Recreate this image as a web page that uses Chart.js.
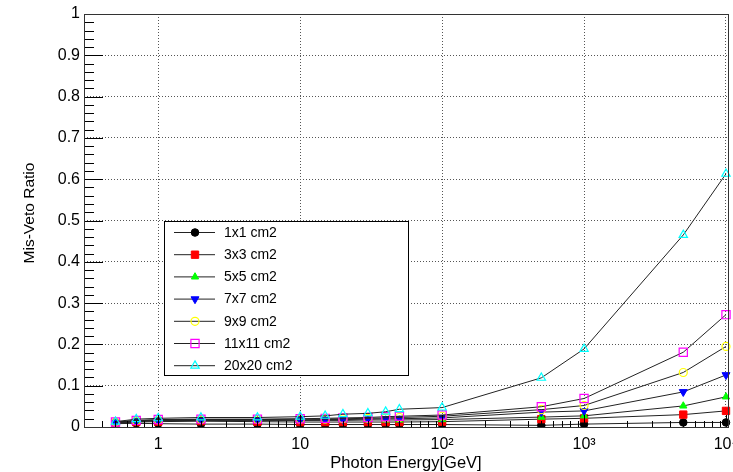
<!DOCTYPE html>
<html>
<head>
<meta charset="utf-8">
<script src="https://cdn.jsdelivr.net/npm/chart.js@4.4.1/dist/chart.umd.min.js"></script>
<style>
  html, body { margin: 0; padding: 0; background: #fff; overflow: hidden; }
  #wrap { width: 760px; height: 472px; }
</style>
</head>
<body>
<div id="wrap"><canvas id="grafico" width="760" height="472"></canvas></div>
<script>
// Energia do fóton (GeV) e razão de mis-veto por tamanho de célula
const energias   = [0.5, 0.7, 1, 2, 5, 10, 15, 20, 30, 40, 50, 100, 500, 1000, 5000, 10000];
const veto1x1    = [0.008, 0.009, 0.008, 0.007, 0.007, 0.006, 0.006, 0.006, 0.006, 0.006, 0.006, 0.006, 0.004, 0.007, 0.011, 0.011];
const veto3x3    = [0.009, 0.012, 0.013, 0.014, 0.013, 0.012, 0.012, 0.012, 0.012, 0.012, 0.012, 0.013, 0.019, 0.021, 0.030, 0.039];
const veto5x5    = [0.010, 0.013, 0.015, 0.016, 0.016, 0.016, 0.016, 0.016, 0.017, 0.017, 0.017, 0.018, 0.024, 0.027, 0.051, 0.073];
const veto7x7    = [0.011, 0.014, 0.016, 0.017, 0.017, 0.017, 0.018, 0.018, 0.019, 0.020, 0.020, 0.022, 0.036, 0.039, 0.085, 0.126];
const veto9x9    = [0.012, 0.015, 0.017, 0.018, 0.018, 0.019, 0.019, 0.020, 0.021, 0.022, 0.023, 0.026, 0.042, 0.052, 0.132, 0.195];
const veto11x11  = [0.012, 0.016, 0.018, 0.019, 0.019, 0.020, 0.021, 0.022, 0.023, 0.025, 0.026, 0.029, 0.049, 0.069, 0.181, 0.272];
const veto20x20  = [0.013, 0.019, 0.021, 0.023, 0.023, 0.025, 0.027, 0.031, 0.033, 0.037, 0.043, 0.047, 0.119, 0.189, 0.465, 0.613];

const rotulos  = ['1x1 cm2', '3x3 cm2', '5x5 cm2', '7x7 cm2', '9x9 cm2', '11x11 cm2', '20x20 cm2'];
const series   = [veto1x1, veto3x3, veto5x5, veto7x7, veto9x9, veto11x11, veto20x20];

const ticksX   = [1, 10, 100, 1000, 10000];
const rotulosX = ['1', '10', '10²', '10³', '10⁴'];

// estilo dos marcadores (padrão ROOT: 20, 21, 22, 23, 24, 25, 26)
const marcadores = [
  { cor: '#000000', estilo: 'circle',   raio: 3.8, rot: 0,   cheio: true },
  { cor: '#ff0000', estilo: 'rect',     raio: 5.2, rot: 0,   cheio: true },
  { cor: '#00ff00', estilo: 'triangle', raio: 4.2, rot: 0,   cheio: true },
  { cor: '#0000ff', estilo: 'triangle', raio: 4.6, rot: 180, cheio: true },
  { cor: '#ffff00', estilo: 'circle',   raio: 4.0, rot: 0,   cheio: false },
  { cor: '#ff00ff', estilo: 'rect',     raio: 5.8, rot: 0,   cheio: false },
  { cor: '#00ffff', estilo: 'triangle', raio: 4.8, rot: 0,   cheio: false }
];

const FONTE = '"Liberation Sans", Arial, Helvetica, sans-serif';

const datasets = series.map((s, i) => {
  const m = marcadores[i];
  return {
    label: rotulos[i],
    data: energias.map((e, k) => ({ x: e, y: s[k] })),
    borderColor: '#222',
    borderWidth: 1,
    tension: 0,
    clip: { left: 8, right: 10, top: 8, bottom: 0 },
    pointStyle: m.estilo,
    pointRotation: m.rot,
    pointRadius: m.raio,
    pointHoverRadius: m.raio,
    pointBackgroundColor: m.cheio ? m.cor : 'rgba(0,0,0,0)',
    pointBorderColor: m.cor,
    pointBorderWidth: m.cheio ? 1 : 1.2,
    order: series.length - i
  };
});

// moldura, marcas internas dos eixos, títulos e legenda no estilo ROOT
const estiloRoot = {
  id: 'estiloRoot',
  afterDraw(chart) {
    const ctx = chart.ctx;
    const { left, right, top, bottom } = chart.chartArea;
    const sx = chart.scales.x, sy = chart.scales.y;
    ctx.save();
    ctx.strokeStyle = '#000';
    ctx.lineWidth = 1;

    // marcas do eixo y (maiores a cada 0.1, menores a cada 0.02)
    ctx.beginPath();
    for (let k = 0; k <= 50; k++) {
      const y = Math.round(sy.getPixelForValue(k / 50)) + 0.5;
      const len = k % 5 === 0 ? 19 : 10;
      ctx.moveTo(left, y); ctx.lineTo(left + len, y);
    }
    // marcas do eixo x logarítmico
    for (let d = -1; d <= 4; d++) {
      for (let m = 1; m <= 9; m++) {
        const v = m * Math.pow(10, d);
        if (v < sx.min || v > sx.max) continue;
        const x = Math.round(sx.getPixelForValue(v)) + 0.5;
        const len = m === 1 ? 12 : 6;
        ctx.moveTo(x, bottom); ctx.lineTo(x, bottom - len);
      }
    }
    ctx.stroke();

    // moldura
    ctx.strokeStyle = '#333';
    ctx.strokeRect(Math.round(left) + 0.5, Math.round(top) + 0.5, Math.round(right - left), Math.round(bottom - top));

    // títulos dos eixos
    ctx.fillStyle = '#000';
    ctx.textAlign = 'center';
    ctx.textBaseline = 'middle';
    ctx.font = '16.5px ' + FONTE;
    ctx.fillText('Photon Energy[GeV]', (left + right) / 2, 463);
    ctx.save();
    ctx.translate(30, 213);
    ctx.rotate(-Math.PI / 2);
    ctx.font = '15.5px ' + FONTE;
    ctx.fillText('Mis-Veto Ratio', 0, 0);
    ctx.restore();

    // legenda
    const lx = 164, ly = 221, lw = 244, lh = 154;
    ctx.fillStyle = '#fff';
    ctx.fillRect(lx, ly, lw, lh);
    ctx.strokeStyle = '#000';
    ctx.strokeRect(lx + 0.5, ly + 0.5, lw, lh);
    ctx.font = '14px ' + FONTE;
    ctx.textAlign = 'left';
    rotulos.forEach((r, i) => {
      const y = 232.5 + i * 22.2;
      const m = marcadores[i];
      ctx.strokeStyle = '#222';
      ctx.lineWidth = 1;
      ctx.beginPath(); ctx.moveTo(174, y); ctx.lineTo(215, y); ctx.stroke();
      ctx.fillStyle = m.cheio ? m.cor : 'rgba(0,0,0,0)';
      ctx.strokeStyle = m.cor;
      ctx.lineWidth = m.cheio ? 1 : 1.2;
      Chart.helpers.drawPoint(ctx, { pointStyle: m.estilo, radius: m.raio, rotation: m.rot, borderWidth: ctx.lineWidth }, 195, y);
      ctx.fillStyle = '#000';
      ctx.fillText(r, 224, y + 0.5);
    });
    ctx.restore();
  }
};

const grafico = new Chart(document.getElementById('grafico').getContext('2d'), {
  type: 'line',
  data: { datasets },
  plugins: [estiloRoot],
  options: {
    responsive: false,
    animation: false,
    layout: { padding: { top: 14, right: 32, left: 0, bottom: 0 } },
    plugins: { legend: { display: false }, tooltip: { enabled: false } },
    scales: {
      x: {
        type: 'logarithmic',
        min: 0.3,
        max: 10330,
        afterFit: s => { s.height = 45; },
        afterBuildTicks: s => { s.ticks = ticksX.map(v => ({ value: v })); },
        ticks: {
          autoSkip: false, maxRotation: 0, padding: 8, color: '#000',
          font: { family: FONTE, size: 16 },
          callback: v => { const i = ticksX.indexOf(v); return i >= 0 ? rotulosX[i] : ''; }
        },
        grid: { color: '#555', drawTicks: false, lineWidth: 1 },
        border: { display: false, dash: [1, 2] }
      },
      y: {
        min: 0,
        max: 1,
        afterFit: s => { s.width = 84; },
        ticks: {
          stepSize: 0.1, padding: 4, color: '#000',
          font: { family: FONTE, size: 16 },
          callback: v => String(+v.toFixed(1))
        },
        grid: {
          drawTicks: false, lineWidth: 1,
          color: c => (c.tick && (c.tick.value < 0.001 || c.tick.value > 0.999)) ? 'rgba(0,0,0,0)' : '#555'
        },
        border: { display: false, dash: [1, 2] }
      }
    }
  }
});
</script>
</body>
</html>
